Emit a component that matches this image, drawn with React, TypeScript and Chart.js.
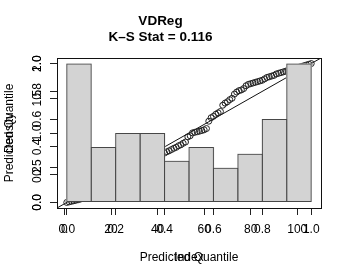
import React, { useEffect, useRef } from "react";
import { Chart, registerables } from "chart.js";

Chart.register(...registerables);

// ---- text ----
const chartTitle = ["VDReg", "K–S Stat = 0.116"];
const xQuantTitle = "Predicted Quantile";
const xIndexTitle = "Index";
const yQuantTitle = "Predicted Quantile";
const yDensityTitle = "Density";

// ---- histogram (density per 0.1-wide bin) ----
const binCenters = [0.05, 0.15, 0.25, 0.35, 0.45, 0.55, 0.65, 0.75, 0.85, 0.95];
const binDensity = [2.0, 0.8, 1.0, 1.0, 0.6, 0.8, 0.5, 0.7, 1.2, 2.0];

// ---- sorted predicted quantiles, plotted against their index ----
const sortedQuantiles = [
  0.0, 0.004, 0.008, 0.012, 0.016, 0.02, 0.025, 0.03, 0.035, 0.04,
  0.045, 0.05, 0.055, 0.06, 0.065, 0.07, 0.075, 0.08, 0.085, 0.09,
  0.105, 0.12, 0.13, 0.14, 0.15, 0.16, 0.175, 0.19,
  0.2, 0.21, 0.22, 0.23, 0.24, 0.25, 0.26, 0.27, 0.28, 0.29,
  0.305, 0.318, 0.332, 0.345, 0.356, 0.365, 0.372, 0.381, 0.39, 0.397,
  0.408, 0.415, 0.426, 0.435, 0.472, 0.48,
  0.501, 0.505, 0.509, 0.513, 0.518, 0.523, 0.532, 0.585,
  0.61, 0.62, 0.635, 0.645, 0.655,
  0.7, 0.715, 0.725, 0.74, 0.75, 0.78, 0.795,
  0.805, 0.81, 0.82, 0.84, 0.85, 0.855, 0.86, 0.865, 0.87, 0.875, 0.88, 0.89,
  0.9, 0.905, 0.91, 0.915, 0.925, 0.93, 0.935, 0.94, 0.945, 0.95,
  0.955, 0.96, 0.965, 0.97, 0.975, 0.98, 0.985, 0.99, 0.995, 1.0,
];

// reference line y = x (extends beyond the plot, clipped by the chart area)
const refLineX = [-1, 2];
const refLineY = [-1, 2];

// ---- axis ranges & ticks ----
const xQuantRange = [-0.04, 1.04];
const xIndexRange = [-3.2, 110.2];
const yQuantRange = [-0.04, 1.04];
const yDensityRange = [-0.08, 2.08];
const xQuantTicks = [0, 0.2, 0.4, 0.6, 0.8, 1.0];
const xIndexTicks = [0, 20, 40, 60, 80, 100];
const yQuantTicks = [0, 0.2, 0.4, 0.6, 0.8, 1.0];
const yDensityTicks = [0, 0.5, 1.0, 1.5, 2.0];

const FONT = "'Liberation Sans', Arial, Helvetica, sans-serif";

const boxPlugin = {
  id: "plotBox",
  afterDraw(chart: any) {
    const { ctx, chartArea: a } = chart;
    ctx.save();
    ctx.strokeStyle = "#111";
    ctx.lineWidth = 1;
    ctx.strokeRect(
      Math.round(a.left) + 0.5,
      Math.round(a.top) + 0.5,
      Math.round(a.right - a.left),
      Math.round(a.bottom - a.top)
    );
    ctx.restore();
  },
};

export default function App() {
  const ref = useRef<HTMLCanvasElement>(null);

  useEffect(() => {
    if (!ref.current) return;
    const setTicks = (vals: number[]) => (scale: any) => {
      scale.ticks = vals.map((v) => ({ value: v }));
    };
    const tickFont = { family: FONT, size: 12 };
    const titleFont = { family: FONT, size: 12 };
    const grid = {
      display: true,
      drawOnChartArea: false,
      drawTicks: true,
      tickLength: 7,
      color: "#222",
      lineWidth: 1,
      offset: false,
    };
    const border = { display: true, color: "#111", width: 1 };
    const histData = binCenters.map((x, i) => ({ x, y: binDensity[i] }));

    const chart = new Chart(ref.current, {
      type: "scatter",
      data: {
        datasets: [
          // outlines of the histogram bars (on top)
          {
            type: "bar",
            data: histData,
            xAxisID: "xq",
            yAxisID: "yh",
            backgroundColor: "rgba(0,0,0,0)",
            borderColor: "#474747",
            borderWidth: 1,
            borderSkipped: false,
            inflateAmount: 0,
            grouped: false,
            barPercentage: 1.04,
            categoryPercentage: 1,
            order: 0,
          } as any,
          // fills of the histogram bars
          {
            type: "bar",
            data: histData,
            xAxisID: "xq",
            yAxisID: "yh",
            backgroundColor: "#D3D3D3",
            borderWidth: 0,
            inflateAmount: 0,
            grouped: false,
            barPercentage: 1.06,
            categoryPercentage: 1,
            order: 1,
          } as any,
          {
            type: "scatter",
            data: sortedQuantiles.map((q, i) => ({ x: i + 1, y: q })),
            xAxisID: "xi",
            yAxisID: "yq",
            pointRadius: 3,
            pointBorderWidth: 1,
            pointBorderColor: "#222",
            pointBackgroundColor: "rgba(0,0,0,0)",
            order: 2,
          } as any,
          {
            type: "line",
            data: refLineX.map((x, i) => ({ x, y: refLineY[i] })),
            xAxisID: "xq",
            yAxisID: "yq",
            borderColor: "#111",
            borderWidth: 1,
            pointRadius: 0,
            order: 3,
          } as any,
        ],
      },
      options: {
        animation: false,
        responsive: false,
        events: [],
        layout: { padding: { left: 0, right: 30, top: 0, bottom: 0 } },
        plugins: {
          legend: { display: false },
          tooltip: { enabled: false },
          title: {
            display: true,
            text: chartTitle,
            color: "#000",
            font: { family: FONT, size: 13.5, weight: "bold", lineHeight: 1.22 },
            padding: { top: 13, bottom: 12.06 },
          },
        },
        scales: {
          xq: {
            type: "linear",
            axis: "x",
            position: "bottom",
            weight: 1,
            min: xQuantRange[0],
            max: xQuantRange[1],
            offset: false,
            bounds: "data",
            afterBuildTicks: setTicks(xQuantTicks),
            afterFit: (s: any) => {
              s.height = 72;
            },
            ticks: {
              autoSkip: false,
              minRotation: 0,
              maxRotation: 0,
              color: "#000",
              font: tickFont,
              padding: 7.5,
              callback: (v: any) => Number(v).toFixed(1),
            },
            grid,
            border,
            title: {
              display: true,
              text: xQuantTitle,
              color: "#000",
              font: titleFont,
              padding: { top: 0, bottom: 14.8 },
            },
          },
          xi: {
            type: "linear",
            axis: "x",
            position: "bottom",
            weight: 0,
            min: xIndexRange[0],
            max: xIndexRange[1],
            offset: false,
            bounds: "data",
            afterBuildTicks: setTicks(xIndexTicks),
            afterFit: (s: any) => {
              s.height = 0;
            },
            ticks: {
              autoSkip: false,
              minRotation: 0,
              maxRotation: 0,
              mirror: true,
              color: "#000",
              font: tickFont,
              padding: -28.9,
              callback: (v: any) => String(v),
            },
            grid,
            border,
            title: {
              display: true,
              text: xIndexTitle,
              color: "#000",
              font: titleFont,
              padding: { top: 0, bottom: -57.2 },
            },
          },
          yq: {
            type: "linear",
            axis: "y",
            position: "left",
            weight: 1,
            min: yQuantRange[0],
            max: yQuantRange[1],
            bounds: "data",
            afterBuildTicks: setTicks(yQuantTicks),
            afterFit: (s: any) => {
              s.width = 57;
            },
            ticks: {
              autoSkip: false,
              minRotation: 90,
              maxRotation: 90,
              crossAlign: "center",
              color: "#000",
              font: tickFont,
              padding: 3.7,
              callback: (v: any) => Number(v).toFixed(1),
            },
            grid,
            border,
            title: {
              display: true,
              text: yQuantTitle,
              color: "#000",
              font: titleFont,
              padding: { top: 2.3, bottom: 0 },
            },
          },
          yh: {
            type: "linear",
            axis: "y",
            position: "left",
            weight: 0,
            min: yDensityRange[0],
            max: yDensityRange[1],
            bounds: "data",
            afterBuildTicks: setTicks(yDensityTicks),
            afterFit: (s: any) => {
              s.width = 0;
            },
            ticks: {
              autoSkip: false,
              minRotation: 90,
              maxRotation: 90,
              crossAlign: "center",
              mirror: true,
              color: "#000",
              font: tickFont,
              padding: -27.4,
              callback: (v: any) => Number(v).toFixed(1),
            },
            grid,
            border,
            title: {
              display: true,
              text: yDensityTitle,
              color: "#000",
              font: titleFont,
              padding: { top: -54.7, bottom: 0 },
            },
          },
        },
      } as any,
      plugins: [boxPlugin],
    });
    return () => chart.destroy();
  }, []);

  return (
    <div
      style={{
        position: "fixed",
        left: 0,
        top: 0,
        width: 351,
        height: 280,
        background: "#fff",
      }}
    >
      <canvas ref={ref} width={351} height={280} style={{ display: "block" }} />
    </div>
  );
}
